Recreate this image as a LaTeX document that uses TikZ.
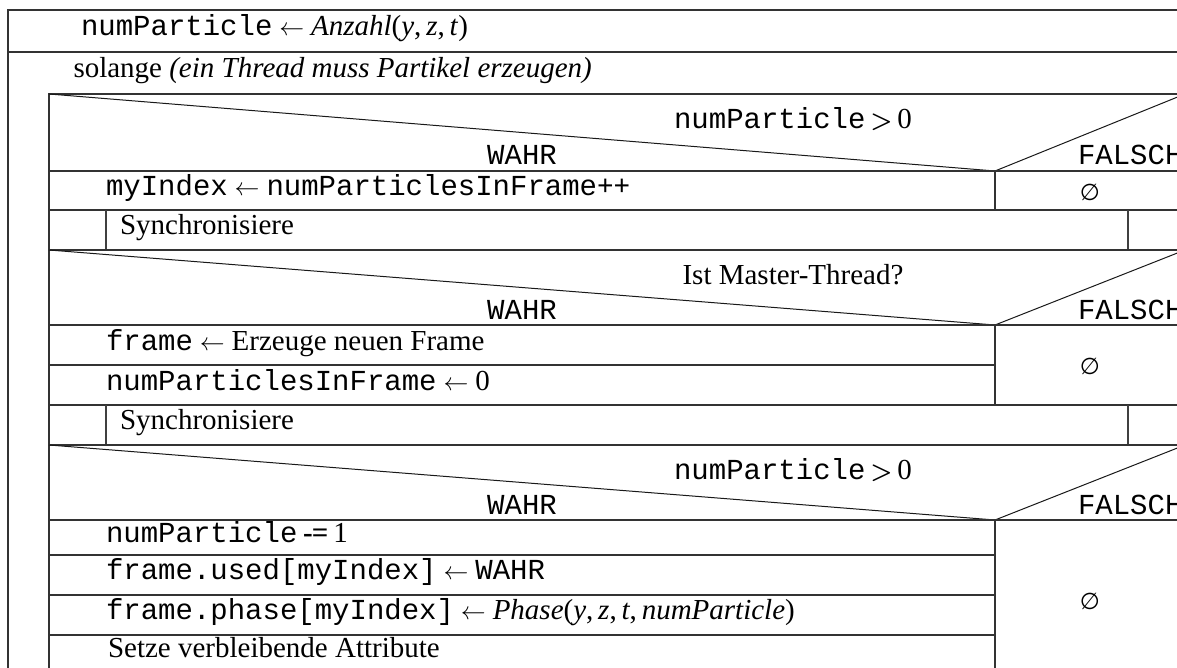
\documentclass[tikz,border=0pt]{standalone}
\usepackage{fontspec}
\setmainfont{Liberation Serif}
\setmonofont{Liberation Mono}
\newfontfamily\symfont{DejaVu Sans}
\newcommand{\nil}{{\symfont\fontsize{23}{26}\selectfont ∅}}
\newcommand{\gt}{{\boldmath$>$}}
\begin{document}
\begin{tikzpicture}[x=1pt,y=-1pt,
  rule/.style={line width=1.6pt, draw=black!80},
  slant/.style={line width=1pt, draw=black!90},
  hair/.style={line width=1.1pt, draw=black!75},
  lbl/.style={inner sep=0pt, outer sep=0pt, font=\fontsize{29}{34}\selectfont, text=black},
  rowtext/.style={lbl, anchor=mid west},
  cond/.style={lbl, anchor=base},
  branch/.style={lbl, anchor=base},
  falsch/.style={lbl, anchor=base west},
  empty/.style={lbl, anchor=center},
]
% right border of the loop body (lies just outside the page)
\def\R{1185}
\useasboundingbox (0,0) rectangle (1177,668);
\clip (0,0) rectangle (1177,668);
\fill[white] (0,0) rectangle (1177,668);

% split points of the three decisions
\coordinate (apexA) at (995,171);
\coordinate (apexB) at (995,325);
\coordinate (apexC) at (995,520);

% outer frame and loop frame
\draw[rule] (8,700) -- (8,10) -- (\R,10);
\draw[rule] (8,52) -- (\R,52);
\draw[rule] (49,700) -- (49,94) -- (\R,94);

% decision 1
\draw[slant] (49,94) -- (apexA) -- (\R,94);
\draw[rule] (49,171) -- (\R,171);
\draw[rule] (apexA) -- (995,210);
\draw[rule] (49,210) -- (\R,210);
\draw[hair] (106,210) -- (106,250);
\draw[hair] (1128,210) -- (1128,250);
\draw[rule] (49,250) -- (\R,250);

% decision 2
\draw[slant] (49,250) -- (apexB) -- (\R,250);
\draw[rule] (49,325) -- (\R,325);
\draw[rule] (49,365) -- (995,365);
\draw[rule] (apexB) -- (995,405);
\draw[rule] (49,405) -- (\R,405);
\draw[hair] (106,405) -- (106,445);
\draw[hair] (1128,405) -- (1128,445);
\draw[rule] (49,445) -- (\R,445);

% decision 3
\draw[slant] (49,445) -- (apexC) -- (\R,445);
\draw[rule] (49,520) -- (\R,520);
\draw[rule] (49,555) -- (995,555);
\draw[rule] (49,595) -- (995,595);
\draw[rule] (49,635) -- (995,635);
\draw[rule] (apexC) -- (995,700);

% texts
\node[rowtext] (init) at (81,33) {\texttt{numParticle}${}\leftarrow{}$\textit{Anzahl}(\textit{y},\,\textit{z},\,\textit{t})};
\node[rowtext] (loop) at (73.5,75) {solange \textit{(ein Thread muss Partikel erzeugen)}};

\node[cond] (condA) at (793,129) {\texttt{numParticle}\,\gt\,0};
\node[branch] (yesA) at (522,165) {\texttt{WAHR}};
\node[falsch] (noA) at (1078,165) {\texttt{FALSCH}};
\node[rowtext] (idx) at (106,193) {\texttt{myIndex}${}\leftarrow{}$\texttt{numParticlesInFrame}\textbf{++}};
\node[empty] (nilA) at (1090,192) {\nil};
\node[rowtext] (syncA) at (120,232.5) {Synchronisiere};

\node[cond] (condB) at (793,284) {Ist Master-Thread?};
\node[branch] (yesB) at (522,319) {\texttt{WAHR}};
\node[falsch] (noB) at (1078,319) {\texttt{FALSCH}};
\node[rowtext] (newf) at (106,348) {\texttt{frame}${}\leftarrow{}$Erzeuge neuen Frame};
\node[rowtext] (reset) at (106,388) {\texttt{numParticlesInFrame}${}\leftarrow{}$0};
\node[empty] (nilB) at (1090,366) {\nil};
\node[rowtext] (syncB) at (120,427.5) {Synchronisiere};

\node[cond] (condC) at (793,479) {\texttt{numParticle}\,\gt\,0};
\node[branch] (yesC) at (522,514) {\texttt{WAHR}};
\node[falsch] (noC) at (1078,514) {\texttt{FALSCH}};
\node[rowtext] (dec) at (106,540) {\texttt{numParticle}\hspace{0.2em}\textbf{-\hspace{-0.04em}=}\hspace{0.18em}1};
\node[rowtext] (used) at (106,577.5) {\texttt{frame.used[myIndex]}${}\leftarrow{}$\texttt{WAHR}};
\node[rowtext] (phase) at (106,617.5) {\texttt{frame.phase[myIndex]}${}\leftarrow{}$\textit{Phase}(\textit{y},\,\textit{z},\,\textit{t},\,\textit{numParticle})};
\node[rowtext] (rest) at (108,655) {Setze verbleibende Attribute};
\node[empty] (nilC) at (1090,601) {\nil};
\end{tikzpicture}
\end{document}
